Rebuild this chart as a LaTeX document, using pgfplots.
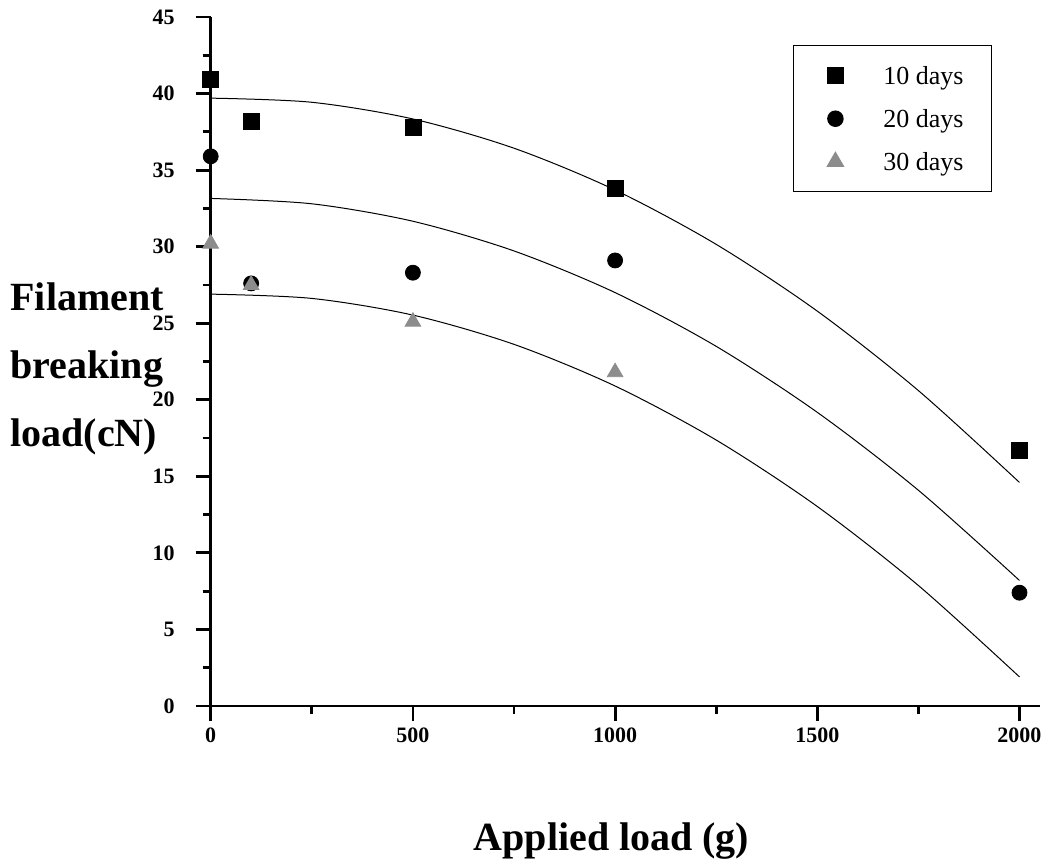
\documentclass[border=0pt]{standalone}
\usepackage{fontspec}
\setmainfont{Liberation Serif}
\usepackage{pgfplots}
\pgfplotsset{compat=1.18}
\pgfkeys{/pgf/number format/1000 sep={}}
\definecolor{trigray}{RGB}{140,140,140}
\pgfplotsset{mylegend/.style={legend image code/.code={\path[draw=none,fill=none] (0pt,-6pt) rectangle (14pt,6pt); \draw[##1] plot coordinates {(7pt,0pt)};}}}
\pgfplotstableread{
x y
0 40.9
100 38.2
500 37.8
1000 33.8
2000 16.7
}\tenD
\pgfplotstableread{
x y
0 35.9
100 27.6
500 28.3
1000 29.1
2000 7.4
}\twentyD
\pgfplotstableread{
x y
0 30.2
100 27.5
500 25.1
1000 21.8
}\thirtyD
\pgfplotstableread{
x y
0 39.70
250 39.43
500 38.34
750 36.43
1000 33.70
1250 30.15
1500 25.79
1750 20.60
2000 14.60
}\tenF
\pgfplotstableread{
x y
0 33.15
250 32.80
500 31.66
750 29.72
1000 27.00
1250 23.49
1500 19.18
1750 14.09
2000 8.20
}\twentyF
\pgfplotstableread{
x y
0 26.90
250 26.62
500 25.53
750 23.62
1000 20.90
1250 17.37
1500 13.03
1750 7.87
2000 1.90
}\thirtyF
\begin{document}
\begin{tikzpicture}
\useasboundingbox (-105.35pt,-80pt) rectangle (415.65pt,353pt);
\begin{axis}[
  at={(0pt,0pt)}, anchor=south west,
  scale only axis, width=414.5pt, height=344.5pt,
  xmin=0, xmax=2050, ymin=0, ymax=45,
  axis x line=bottom, axis y line=left,
  axis line style={-, line width=1.4pt},
  xtick={0,500,1000,1500,2000},
  ytick={0,5,...,45},
  minor x tick num=1, minor y tick num=1,
  tick align=outside,
  major tick length=7.5pt, minor tick length=4pt,
  every tick/.style={line width=1.4pt, black},
  /pgf/number format/assume math mode=true,
  ticklabel style={font=\fontsize{11}{12}\selectfont\bfseries},
  yticklabel style={xshift=-7pt},
  scaled x ticks=false,
  clip=false,
  legend style={at={(rel axis cs:0.702,0.9594)}, anchor=north west,
    draw=black, line width=0.75pt, inner xsep=14pt, inner ysep=7.5pt,
    /tikz/column sep=17pt, /tikz/row sep=6.5pt,
    nodes={inner sep=0pt, text height=12pt, text depth=3pt, font=\fontsize{13}{15}\selectfont}},
  legend cell align=left,
]
\addplot[black, line width=0.5pt, smooth, no markers, forget plot] table {\tenF};
\addplot[black, line width=0.5pt, smooth, no markers, forget plot] table {\twentyF};
\addplot[black, line width=0.5pt, smooth, no markers, forget plot] table {\thirtyF};
\addplot[only marks, mark=square*, mark size=4pt, black, mylegend] table {\tenD};
\addlegendentry{10 days}
\addplot[only marks, mark=*, mark size=3.75pt, black, mylegend] table {\twentyD};
\addlegendentry{20 days}
\addplot[only marks, mark=triangle*, mark size=4.5pt, trigray, mylegend] table {\thirtyD};
\addlegendentry{30 days}
\node[anchor=west, align=left, inner sep=0pt, font=\fontsize{20}{34}\selectfont\bfseries] at (rel axis cs:-0.242,0.489) {Filament\\breaking\\load(cN)};
\node[anchor=base, inner sep=0pt, font=\fontsize{20}{24}\selectfont\bfseries] at (rel axis cs:0.4835,-0.209) {Applied load (g)};
\end{axis}
\end{tikzpicture}
\end{document}
